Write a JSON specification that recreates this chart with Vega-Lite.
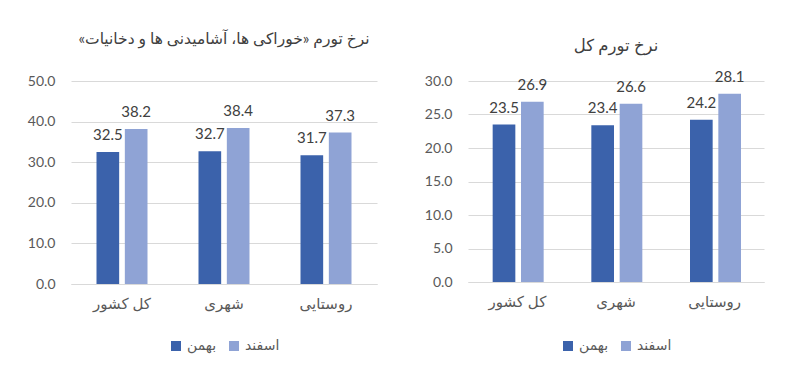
{
  "$schema": "https://vega.github.io/schema/vega-lite/v6.json",
  "background": "white",
  "padding": {"left": 27, "top": 31, "right": 5, "bottom": 5},
  "data": {
    "values": [
      {"panel": "food", "region": "کل کشور", "month": "بهمن", "value": 32.5},
      {"panel": "food", "region": "کل کشور", "month": "اسفند", "value": 38.2},
      {"panel": "food", "region": "شهری", "month": "بهمن", "value": 32.7},
      {"panel": "food", "region": "شهری", "month": "اسفند", "value": 38.4},
      {"panel": "food", "region": "روستایی", "month": "بهمن", "value": 31.7},
      {"panel": "food", "region": "روستایی", "month": "اسفند", "value": 37.3},
      {"panel": "total", "region": "کل کشور", "month": "بهمن", "value": 23.5},
      {"panel": "total", "region": "کل کشور", "month": "اسفند", "value": 26.9},
      {"panel": "total", "region": "شهری", "month": "بهمن", "value": 23.4},
      {"panel": "total", "region": "شهری", "month": "اسفند", "value": 26.6},
      {"panel": "total", "region": "روستایی", "month": "بهمن", "value": 24.2},
      {"panel": "total", "region": "روستایی", "month": "اسفند", "value": 28.1}
    ]
  },
  "config": {
    "font": "Lato, DejaVu Sans",
    "view": {"stroke": null},
    "axis": {"labelFont": "Lato, DejaVu Sans"},
    "legend": {"layout": {"bottom": {"anchor": "middle"}}}
  },
  "spacing": 47,
  "resolve": {"scale": {"color": "independent", "y": "independent"}, "legend": {"color": "independent"}},
  "hconcat": [
    {
      "width": 306,
      "height": 203,
      "title": {"text": "نرخ تورم «خوراکی ها، آشامیدنی ها و دخانیات»‏", "fontSize": 15.5, "fontWeight": "normal", "color": "#404040", "frame": "group", "offset": 27},
      "transform": [{"filter": "datum.panel == 'food'"}],
      "encoding": {
        "x": {"field": "region", "type": "nominal", "sort": null, "scale": {"paddingInner": 0.5, "paddingOuter": 0.25},
          "axis": {"title": null, "labelAngle": 0, "labelFontSize": 15, "labelColor": "#595959", "labelPadding": 12, "ticks": false, "domainColor": "#d9d9d9"}},
        "xOffset": {"field": "month", "type": "nominal", "sort": ["بهمن", "اسفند"], "scale": {"paddingInner": 0.2, "paddingOuter": 0}},
        "y": {"field": "value", "type": "quantitative", "scale": {"domain": [0, 50]},
          "axis": {"title": null, "values": [0, 10, 20, 30, 40, 50], "format": ".1f", "domain": false, "ticks": false, "labelPadding": 16, "gridColor": "#d9d9d9", "labelFontSize": 14, "labelColor": "#595959"}}
      },
      "layer": [
        {"mark": {"type": "bar"},
          "encoding": {"color": {"field": "month", "type": "nominal", "sort": ["بهمن", "اسفند"], "scale": {"domain": ["بهمن", "اسفند"], "range": ["#3B62AB", "#8FA3D5"]},
            "legend": {"title": null, "orient": "bottom", "direction": "horizontal", "symbolType": "square", "symbolSize": 100, "symbolStrokeWidth": 0, "labelFontSize": 14, "labelColor": "#595959", "offset": 28}}}},
        {"mark": {"type": "text", "baseline": "alphabetic", "dy": -12, "fontSize": 15, "color": "#404040"},
          "encoding": {"text": {"field": "value", "type": "quantitative", "format": ".1f"}}}
      ]
    },
    {
      "width": 296,
      "height": 201,
      "title": {"text": "نرخ تورم کل", "fontSize": 16.5, "fontWeight": "normal", "color": "#404040", "frame": "group", "offset": 15},
      "transform": [{"filter": "datum.panel == 'total'"}],
      "encoding": {
        "x": {"field": "region", "type": "nominal", "sort": null, "scale": {"paddingInner": 0.5, "paddingOuter": 0.25},
          "axis": {"title": null, "labelAngle": 0, "labelFontSize": 15, "labelColor": "#595959", "labelPadding": 12, "ticks": false, "domainColor": "#d9d9d9"}},
        "xOffset": {"field": "month", "type": "nominal", "sort": ["بهمن", "اسفند"], "scale": {"paddingInner": 0.2, "paddingOuter": 0}},
        "y": {"field": "value", "type": "quantitative", "scale": {"domain": [0, 30]},
          "axis": {"title": null, "values": [0, 5, 10, 15, 20, 25, 30], "format": ".1f", "domain": false, "ticks": false, "labelPadding": 16, "gridColor": "#d9d9d9", "labelFontSize": 14, "labelColor": "#595959"}}
      },
      "layer": [
        {"mark": {"type": "bar"},
          "encoding": {"color": {"field": "month", "type": "nominal", "sort": ["بهمن", "اسفند"], "scale": {"domain": ["بهمن", "اسفند"], "range": ["#3B62AB", "#8FA3D5"]},
            "legend": {"title": null, "orient": "bottom", "direction": "horizontal", "symbolType": "square", "symbolSize": 100, "symbolStrokeWidth": 0, "labelFontSize": 14, "labelColor": "#595959", "offset": 30}}}},
        {"mark": {"type": "text", "baseline": "alphabetic", "dy": -12, "fontSize": 15, "color": "#404040"},
          "encoding": {"text": {"field": "value", "type": "quantitative", "format": ".1f"}}}
      ]
    }
  ]
}
